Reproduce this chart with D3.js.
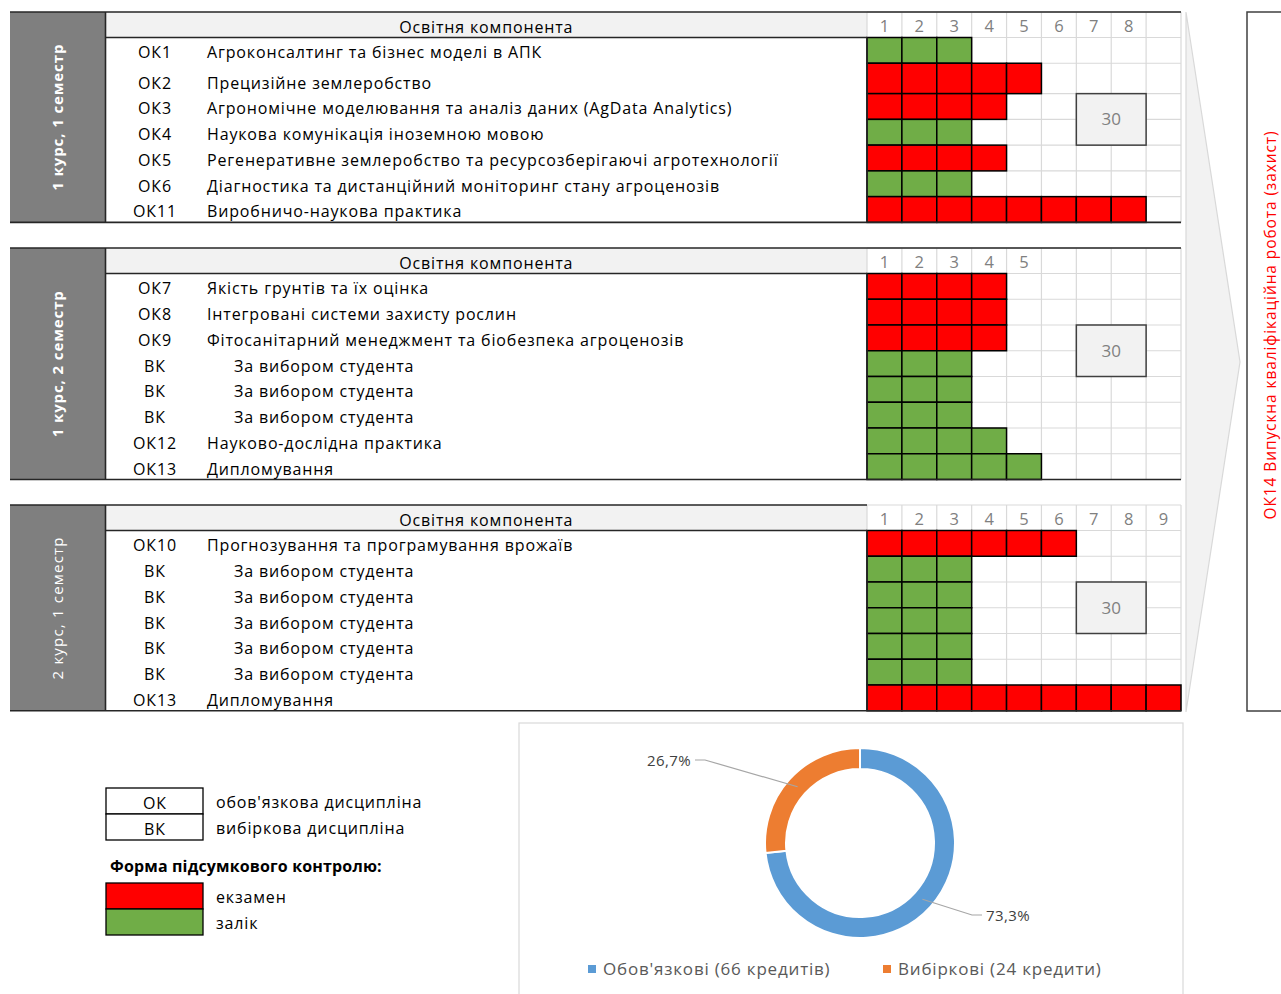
<!DOCTYPE html>
<html><head><meta charset="utf-8">
<script src="https://cdn.jsdelivr.net/npm/d3@7"></script>
<style>body{margin:0;background:#fff}svg{display:block}text{font-family:"Open Sans",sans-serif}</style>
</head><body><svg id="c" width="1281" height="994"></svg>
<script>
// ---------------- DATA ----------------
const headerTitle = "Освітня компонента";
const semesterLabels = ["1 курс, 1 семестр", "1 курс, 2 семестр", "2 курс, 1 семестр"];

const codesS1 = ["ОК1", "ОК2", "ОК3", "ОК4", "ОК5", "ОК6", "ОК11"];
const namesS1 = ["Агроконсалтинг та бізнес моделі в АПК", "Прецизійне землеробство",
  "Агрономічне моделювання та аналіз даних (AgData Analytics)", "Наукова комунікація іноземною мовою",
  "Регенеративне землеробство та ресурсозберігаючі агротехнології",
  "Діагностика та дистанційний моніторинг стану агроценозів", "Виробничо-наукова практика"];
const creditsS1 = [3, 5, 4, 3, 4, 3, 8];
const controlS1 = ["залік", "екзамен", "екзамен", "залік", "екзамен", "залік", "екзамен"];
const ticksS1 = [1, 2, 3, 4, 5, 6, 7, 8];

const codesS2 = ["ОК7", "ОК8", "ОК9", "ВК", "ВК", "ВК", "ОК12", "ОК13"];
const namesS2 = ["Якість грунтів та їх оцінка", "Інтегровані системи захисту рослин",
  "Фітосанітарний менеджмент та біобезпека агроценозів", "За вибором студента", "За вибором студента",
  "За вибором студента", "Науково-дослідна практика", "Дипломування"];
const creditsS2 = [4, 4, 4, 3, 3, 3, 4, 5];
const controlS2 = ["екзамен", "екзамен", "екзамен", "залік", "залік", "залік", "залік", "залік"];
const ticksS2 = [1, 2, 3, 4, 5];

const codesS3 = ["ОК10", "ВК", "ВК", "ВК", "ВК", "ВК", "ОК13"];
const namesS3 = ["Прогнозування та програмування врожаїв", "За вибором студента", "За вибором студента",
  "За вибором студента", "За вибором студента", "За вибором студента", "Дипломування"];
const creditsS3 = [6, 3, 3, 3, 3, 3, 9];
const controlS3 = ["екзамен", "залік", "залік", "залік", "залік", "залік", "екзамен"];
const ticksS3 = [1, 2, 3, 4, 5, 6, 7, 8, 9];

const thesisLabel = "ОК14 Випускна кваліфікаційна робота (захист)";
const legendCodes = ["ОК", "ВК"];
const legendCodeNames = ["обов'язкова дисципліна", "вибіркова дисципліна"];
const formTitle = "Форма підсумкового контролю:";
const controlKinds = ["екзамен", "залік"];

const pieLabels = ["Обов'язкові (66 кредитів)", "Вибіркові (24 кредити)"];
const pieValues = [66, 24];

// ---------------- LAYOUT / STYLE ----------------
const sections = [
  {codes: codesS1, names: namesS1, credits: creditsS1, control: controlS1, ticks: ticksS1},
  {codes: codesS2, names: namesS2, credits: creditsS2, control: controlS2, ticks: ticksS2},
  {codes: codesS3, names: namesS3, credits: creditsS3, control: controlS3, ticks: ticksS3}
];
const L = {
  left: 10, labelR: 105.5, codeX: 155, nameX: 207, indent: 27, gridL: 867, gridR: 1181,
  tops: [12, 248, 505], headerH: 25.5, rowUnit: 25.75,
  weights: [[1, 1.18, 1, 1, 1, 1, 1], null, null],
  topLineEnd: [1181, 1181, 867], labelWeight: ["bold", "bold", "normal"],
  labelSpacing: [0.9, 0.9, 1.2],
  boxCols: [7, 8], boxRows: [2, 3], fs: 16, ls: 0.85
};
const colorOf = {"екзамен": "#ff0000", "залік": "#70ad47"};
const svg = d3.select("#c");

const x = d3.scaleBand().domain(d3.range(1, 10)).range([L.gridL, L.gridR]);

// chevron
const chevron = [[1186, 12], [1240, 362], [1186, 712]];
svg.append("path").attr("d", d3.line()(chevron) + "Z")
  .attr("fill", "#f2f2f2").attr("stroke", "#d9d9d9").attr("stroke-width", 1.2);

// thesis box
svg.append("rect").attr("x", 1247).attr("y", 12).attr("width", 60).attr("height", 699)
  .attr("fill", "#fff").attr("stroke", "#404040").attr("stroke-width", 1.5);
svg.append("text").attr("transform", "translate(1271,325) rotate(-90)")
  .attr("text-anchor", "middle").attr("dy", "0.35em").attr("fill", "#ff0000")
  .attr("font-size", 15.5).attr("letter-spacing", 0.9).text(thesisLabel);

sections.forEach((s, si) => {
  const top = L.tops[si];
  const w = L.weights[si] || s.codes.map(() => 1);
  const cum = [0, ...d3.cumsum(w)];
  const hb = top + L.headerH;
  const y = d3.scaleLinear().domain([0, cum[cum.length - 1]])
    .range([hb, hb + cum[cum.length - 1] * L.rowUnit]);
  const bottom = y(cum[cum.length - 1]);
  const g = svg.append("g");

  // grey semester column
  g.append("rect").attr("x", L.left).attr("y", top).attr("width", L.labelR - L.left).attr("height", bottom - top)
    .attr("fill", "#7f7f7f");
  g.append("text").attr("transform", `translate(58,${(top + bottom) / 2}) rotate(-90)`)
    .attr("text-anchor", "middle").attr("dy", "0.35em").attr("fill", "#fff")
    .attr("font-size", 15).attr("font-weight", L.labelWeight[si]).attr("letter-spacing", L.labelSpacing[si])
    .text(semesterLabels[si]);

  // header fill
  g.append("rect").attr("x", L.labelR).attr("y", top).attr("width", L.gridL - L.labelR).attr("height", L.headerH)
    .attr("fill", "#f2f2f2");
  g.append("text").attr("x", (L.labelR + L.gridL) / 2).attr("y", hb - 5).attr("text-anchor", "middle")
    .attr("font-size", L.fs).attr("letter-spacing", L.ls).attr("fill", "#000").text(headerTitle);

  // light grid
  const light = g.append("g").attr("stroke", "#d9d9d9").attr("stroke-width", 1.2);
  x.domain().concat([10]).forEach(c => {
    const xx = c === 10 ? L.gridR : x(c);
    light.append("line").attr("x1", xx).attr("x2", xx).attr("y1", top).attr("y2", bottom);
  });
  [top, ...cum.map(v => y(v))].forEach(yy => {
    light.append("line").attr("x1", L.gridL).attr("x2", L.gridR).attr("y1", yy).attr("y2", yy);
  });
  // header ticks
  g.selectAll(".tk").data(s.ticks).join("text")
    .attr("x", d => x(d) + x.bandwidth() / 2).attr("y", hb - 5.5).attr("text-anchor", "middle")
    .attr("font-size", 16.5).attr("fill", "#808080").text(d => d);

  // total box
  const tot = d3.sum(s.credits);
  g.append("rect").attr("x", x(L.boxCols[0])).attr("y", y(cum[L.boxRows[0]]))
    .attr("width", x(L.boxCols[1]) + x.bandwidth() - x(L.boxCols[0]))
    .attr("height", y(cum[L.boxRows[1] + 1]) - y(cum[L.boxRows[0]]))
    .attr("fill", "#f2f2f2").attr("stroke", "#404040").attr("stroke-width", 1.5);
  g.append("text").attr("x", x(L.boxCols[0]) + x.bandwidth())
    .attr("y", (y(cum[L.boxRows[0]]) + y(cum[L.boxRows[1] + 1])) / 2).attr("dy", "0.35em")
    .attr("text-anchor", "middle").attr("font-size", 17).attr("fill", "#808080").text(tot);

  // cells
  s.credits.forEach((n, ri) => {
    const y0 = y(cum[ri]), y1 = y(cum[ri + 1]);
    g.selectAll(null).data(d3.range(1, n + 1)).join("rect")
      .attr("x", c => x(c)).attr("y", y0).attr("width", x.bandwidth()).attr("height", y1 - y0)
      .attr("fill", colorOf[s.control[ri]]).attr("stroke", "#000").attr("stroke-width", 1.5);
    g.append("text").attr("x", L.codeX).attr("y", y1 - 5).attr("text-anchor", "middle")
      .attr("font-size", L.fs).attr("letter-spacing", L.ls).text(s.codes[ri]);
    g.append("text").attr("x", L.nameX + (s.codes[ri].startsWith("ВК") ? L.indent : 0)).attr("y", y1 - 5)
      .attr("font-size", L.fs).attr("letter-spacing", L.ls).text(s.names[ri]);
  });

  // dark lines
  const dark = g.append("g").attr("stroke", "#262626").attr("stroke-width", 1.6);
  dark.append("line").attr("x1", L.left).attr("x2", L.topLineEnd[si]).attr("y1", top).attr("y2", top);
  dark.append("line").attr("x1", L.labelR).attr("x2", L.gridL).attr("y1", hb).attr("y2", hb);
  dark.append("line").attr("x1", L.labelR).attr("x2", L.labelR).attr("y1", top).attr("y2", bottom);
  dark.append("line").attr("x1", L.gridL).attr("x2", L.gridL).attr("y1", hb).attr("y2", bottom);
  dark.append("line").attr("x1", L.left).attr("x2", L.gridR).attr("y1", bottom).attr("y2", bottom);
});

// ---------------- LEGEND ----------------
const lg = svg.append("g");
legendCodes.forEach((c, i) => {
  const yy = 788 + i * 26;
  lg.append("rect").attr("x", 106).attr("y", yy).attr("width", 97).attr("height", 26)
    .attr("fill", "#fff").attr("stroke", "#000").attr("stroke-width", 1.3);
  lg.append("text").attr("x", 155).attr("y", yy + 21).attr("text-anchor", "middle").attr("font-size", L.fs)
    .attr("letter-spacing", L.ls).text(c);
  lg.append("text").attr("x", 216).attr("y", yy + 20).attr("font-size", L.fs).attr("letter-spacing", L.ls)
    .text(legendCodeNames[i]);
});
lg.append("text").attr("x", 110).attr("y", 872).attr("font-size", 16).attr("font-weight", "bold")
  .attr("letter-spacing", 0.15).text(formTitle);
controlKinds.forEach((k, i) => {
  const yy = 883 + i * 26;
  lg.append("rect").attr("x", 106).attr("y", yy).attr("width", 97).attr("height", 26)
    .attr("fill", colorOf[k]).attr("stroke", "#000").attr("stroke-width", 1.3);
  lg.append("text").attr("x", 216).attr("y", yy + 20).attr("font-size", L.fs).attr("letter-spacing", L.ls).text(k);
});

// ---------------- DONUT ----------------
svg.append("rect").attr("x", 519).attr("y", 723).attr("width", 664).attr("height", 290)
  .attr("fill", "#fff").attr("stroke", "#d9d9d9").attr("stroke-width", 1.2);
const pieColors = d3.scaleOrdinal().domain(pieLabels).range(["#5b9bd5", "#ed7d31"]);
const cx = 860, cy = 843;
const arcs = d3.pie().sort(null).value(d => d)(pieValues);
const arc = d3.arc().innerRadius(74).outerRadius(95);
const mid = d3.arc().innerRadius(84).outerRadius(84);
const pg = svg.append("g").attr("transform", `translate(${cx},${cy})`);
pg.selectAll("path").data(arcs).join("path").attr("d", arc)
  .attr("fill", (d, i) => pieColors(pieLabels[i])).attr("stroke", "#fff").attr("stroke-width", 2);
const total = d3.sum(pieValues);
const pct = v => (v / total * 100).toFixed(1).replace(".", ",") + "%";
// label anchor offsets relative to donut centre (layout)
const labelPos = [[148, 73, 1], [-191, -82, -1]];
arcs.forEach((a, i) => {
  const [mx, my] = mid.centroid(a);
  const [lx, ly, side] = labelPos[i];
  const ex = lx - side * 26, elbow = lx - side * 36;
  pg.append("polyline").attr("points", [[mx, my], [elbow, ly - 1], [ex, ly - 1]].map(p => p.join(",")).join(" "))
    .attr("fill", "none").attr("stroke", "#a6a6a6").attr("stroke-width", 1.2);
  pg.append("text").attr("x", side > 0 ? lx - 22 : lx + 22).attr("y", ly).attr("dy", "0.35em")
    .attr("text-anchor", side > 0 ? "start" : "end").attr("font-size", 15).attr("letter-spacing", 0.4)
    .attr("fill", "#404040").text(pct(pieValues[i]));
});
// pie legend
const legX = [588, 883];
pieLabels.forEach((t, i) => {
  svg.append("rect").attr("x", legX[i]).attr("y", 965).attr("width", 8).attr("height", 8).attr("fill", pieColors(t));
  svg.append("text").attr("x", legX[i] + 15).attr("y", 969).attr("dy", "0.35em").attr("font-size", 17)
    .attr("letter-spacing", 0.8).attr("fill", "#595959").text(t);
});
</script></body></html>
